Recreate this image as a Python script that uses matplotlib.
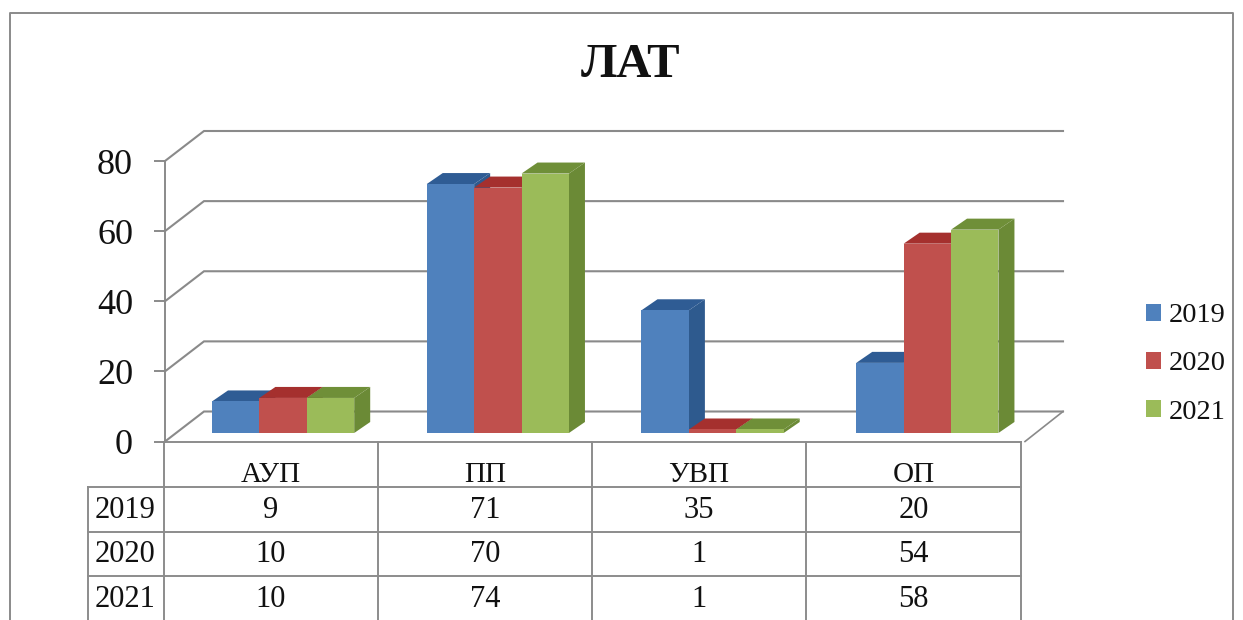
import matplotlib
matplotlib.use("Agg")
import matplotlib.pyplot as plt
from matplotlib.patches import Patch

categories = ["АУП", "ПП", "УВП", "ОП"]
years = ["2019", "2020", "2021"]
v2019 = [9, 71, 35, 20]
v2020 = [10, 70, 1, 54]
v2021 = [10, 74, 1, 58]
series = [v2019, v2020, v2021]
ticks = [0, 20, 40, 60, 80]
title = "ЛАТ"

front = ["#4F81BD", "#C0504D", "#9BBB59"]
top = ["#2F5C94", "#A5302E", "#6F8F38"]
side = ["#2E5A8E", "#8E2F2C", "#6B8A36"]
GRID = "#8A8A8A"
TXT = "#111111"

W, H = 1243, 620
plt.rcParams["font.family"] = ["Liberation Serif", "DejaVu Sans"]
fig = plt.figure(figsize=(W / 100, H / 100), dpi=100, facecolor="white")

# overlay in pixel coordinates for frame and table
ov = fig.add_axes([0, 0, 1, 1], zorder=0)
ov.set_xlim(0, W)
ov.set_ylim(H, 0)
ov.axis("off")

# plotting axes
L, R, Y0, Y80 = 165, 1024, 441.5, 161
ax = fig.add_axes([L / W, 1 - Y0 / H, (R - L) / W, (Y0 - Y80) / H], zorder=1)
ax.patch.set_alpha(0)
ax.set_xlim(0, 4)
ax.set_ylim(0, 80)
for s in ["top", "right", "bottom"]:
    ax.spines[s].set_visible(False)
ax.spines["left"].set_color(GRID)
ax.spines["left"].set_linewidth(1.4)
ax.set_xticks([])
ax.set_yticks(ticks)
ax.tick_params(axis="y", length=8, width=1.4, color=GRID, labelsize=26,
               labelcolor=TXT, pad=15)

px_x = 4 / (R - L)
px_y = 80 / (Y0 - Y80)
wall_dx, wall_dy = 39 * px_x, 30 * px_y
base = 8.5 * px_y
depth_dx, depth_dy = 16 * px_x, 11 * px_y
bar_w = 47.4 * px_x
start = 47 * px_x
wall_end = 898 * px_x

# walls and gridlines
for t in ticks:
    ax.plot([0, wall_dx, wall_end], [t, t + wall_dy, t + wall_dy], color=GRID,
            lw=1.5, clip_on=False, zorder=1, solid_joinstyle="miter")
ax.plot([4 + 1 * px_x, wall_end], [0, wall_dy], color=GRID, lw=1.2, clip_on=False, zorder=1)

# bars
z = 3
for c in range(len(categories)):
    for k, vals in enumerate(series):
        v = vals[c]
        x0 = c + start + k * bar_w
        x1 = x0 + bar_w
        b, t = base, base + v
        ax.fill([x1, x1 + depth_dx, x1 + depth_dx, x1],
                [b, b + depth_dy, t + depth_dy, t], color=side[k], lw=0, zorder=z, clip_on=False)
        ax.fill([x0, x0 + depth_dx, x1 + depth_dx, x1],
                [t, t + depth_dy, t + depth_dy, t], color=top[k], lw=0, zorder=z, clip_on=False)
        ax.bar(x0, v, bar_w, bottom=b, align="edge", color=front[k], lw=0, zorder=z + 0.5)
        z += 1

# outer frame
FR = "#8A8A8A"
ov.plot([10, 10, 1233, 1233], [H, 13, 13, H], color=FR, lw=1.4, clip_on=False)

ov.text(630.5, 77, title, fontsize=35, fontweight="bold", color=TXT, ha="center", va="baseline")

# data table
cols = [164, 378, 592, 806, 1021]
rows = [442, 487, 532, 576]
LBL = 88
lc = "#8C8C8C"
ov.plot([cols[0], cols[-1]], [rows[0]] * 2, color=lc, lw=1.4)
for r in rows[1:]:
    ov.plot([LBL, cols[-1]], [r, r], color=lc, lw=1.4)
for x in cols:
    ov.plot([x, x], [rows[0], H], color=lc, lw=1.4)
ov.plot([LBL, LBL], [rows[1], H], color=lc, lw=1.4)
FS = 22
for i, cat in enumerate(categories):
    cx = (cols[i] + cols[i + 1]) / 2
    ov.text(cx, 475, cat, fontsize=21, color=TXT, ha="center", va="center")
    for j, vals in enumerate(series):
        ov.text(cx, 510.5 + j * 44.5, str(vals[i]), fontsize=FS, color=TXT, ha="center", va="center")
for j, y in enumerate(years):
    ov.text(125, 510.5 + j * 44.5, y, fontsize=FS, color=TXT, ha="center", va="center")

# legend
handles = [Patch(facecolor=front[k], edgecolor="none", label=years[k]) for k in range(3)]
fig.legend(handles=handles, loc="center left", bbox_to_anchor=(1132 / W, 1 - 364 / H),
           frameon=False, fontsize=20.5, labelcolor=TXT, handlelength=0.53, handleheight=0.53,
           handletextpad=0.25, labelspacing=0.81, borderpad=0, borderaxespad=0.5)

fig.savefig("out.png", dpi=100)
